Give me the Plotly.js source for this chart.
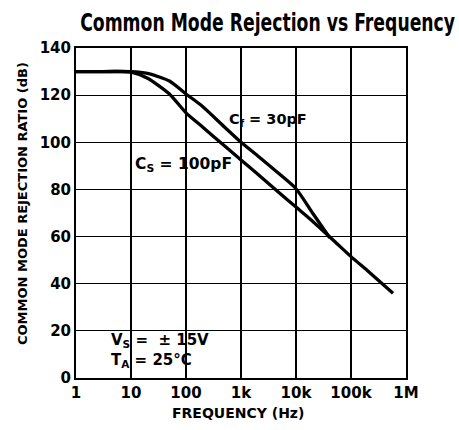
<!DOCTYPE html>
<html>
<head>
<meta charset="utf-8">
<script src="https://cdn.plot.ly/plotly-3.0.1.min.js"></script>
<style>
html,body{margin:0;padding:0;background:#fff;}
#chart{width:459px;height:430px;}
</style>
</head>
<body>
<div id="chart"></div>
<script>
// Data
const freqCf = [1, 3, 10, 20, 50, 100, 200, 500, 1000, 2000, 5000, 10000, 20000, 41000];
const cmrrCf = [130, 130, 130, 129.2, 126, 120.5, 115.2, 106.5, 100, 94.3, 86.5, 80.3, 70, 59.5];
const freqCs = [1, 3, 10, 20, 50, 100, 200, 500, 1000, 2000, 5000, 10000, 20000, 50000, 100000, 200000, 580000];
const cmrrCs = [130, 130, 129.8, 127.2, 120.5, 112.5, 106.5, 98.5, 92.5, 86.5, 78.5, 72.5, 66.5, 58, 51.5, 45.5, 36];
const xTickVals = [1, 10, 100, 1000, 10000, 100000, 1000000];
const xTickText = ["1", "10", "100", "1k", "10k", "100k", "1M"];
const yTickVals = [0, 20, 40, 60, 80, 100, 120, 140];

const FONT = "DejaVu Sans, sans-serif";

const traces = [
  {x: freqCf, y: cmrrCf, mode: "lines", line: {color: "#000", width: 3.3, shape: "spline", smoothing: 0.7}, hoverinfo: "skip", showlegend: false},
  {x: freqCs, y: cmrrCs, mode: "lines", line: {color: "#000", width: 3.3, shape: "spline", smoothing: 0.6}, hoverinfo: "skip", showlegend: false}
];

const layout = {
  width: 459, height: 430,
  margin: {l: 76, r: 53, t: 48, b: 52},
  paper_bgcolor: "#fff", plot_bgcolor: "#fff",
  font: {family: FONT, color: "#000", size: 15},
  showlegend: false,
  title: {text: "<b>Common Mode Rejection vs Frequency</b>", font: {family: FONT, size: 25, color: "#000", weight: "bold"},
          x: 0.583, xref: "container", xanchor: "center", y: 0.948, yref: "container", yanchor: "middle"},
  xaxis: {type: "log", range: [0, 6], tickvals: xTickVals, ticktext: xTickText,
          showgrid: true, gridcolor: "#000", gridwidth: 1.2, zeroline: false,
          showline: true, linecolor: "#000", linewidth: 2, mirror: true, ticks: "",
          tickfont: {family: FONT, size: 15, weight: "bold"}, fixedrange: true},
  yaxis: {range: [0, 140], tickvals: yTickVals,
          showgrid: true, gridcolor: "#000", gridwidth: 1.2, zeroline: false,
          showline: true, linecolor: "#000", linewidth: 2, mirror: true, ticks: "",
          tickfont: {family: FONT, size: 15, weight: "bold"}, fixedrange: true},
  shapes: [
    {type: "rect", xref: "x", yref: "y", x0: 1, x1: 1000, y0: 0, y1: 20, fillcolor: "#fff", line: {width: 0}, layer: "below"}
  ],
  annotations: [
    {text: "COMMON MODE REJECTION RATIO (dB)", xref: "paper", yref: "paper", x: -0.164, y: 0.53, textangle: -90,
     showarrow: false, font: {family: FONT, size: 13, weight: "bold"}, xanchor: "center", yanchor: "middle"},
    {text: "FREQUENCY (Hz)", xref: "paper", yref: "paper", x: 0.49, y: -0.107, showarrow: false,
     font: {family: FONT, size: 14, weight: "bold"}, xanchor: "center", yanchor: "middle"},
    // annotation x positions on the log axis are given in log10 units
    {text: "C<sub>f</sub> = 30pF", xref: "x", yref: "y", x: 3.49, y: 109.5, showarrow: false,
     font: {family: FONT, size: 14.5, weight: "bold"}, xanchor: "center", yanchor: "middle"},
    {text: "C<sub>S</sub> = 100pF", xref: "x", yref: "y", x: 1.96, y: 90.4, showarrow: false,
     font: {family: FONT, size: 15.5, weight: "bold"}, xanchor: "center", yanchor: "middle"},
    {text: "V<sub>S</sub> =  ± 15V<br>T<sub>A</sub> = 25°C", xref: "x", yref: "y", x: 0.6, y: 11.5, showarrow: false,
     font: {family: FONT, size: 15, weight: "bold"}, xanchor: "left", yanchor: "middle", align: "left"}
  ]
};
Plotly.newPlot("chart", traces, layout, {staticPlot: true, displayModeBar: false}).then(function (gd) {
  // condense the title horizontally to mimic the narrow heavy face of the original
  const t = gd.querySelector(".gtitle");
  if (t) {
    const bb = t.getBBox();
    const target = 375;
    const sx = Math.min(1, target / bb.width);
    const cx = bb.x + bb.width / 2;
    t.setAttribute("transform", "translate(" + cx + ",0) scale(" + sx + ",1) translate(" + (-cx) + ",0)");
  }
});
</script>
</body>
</html>
